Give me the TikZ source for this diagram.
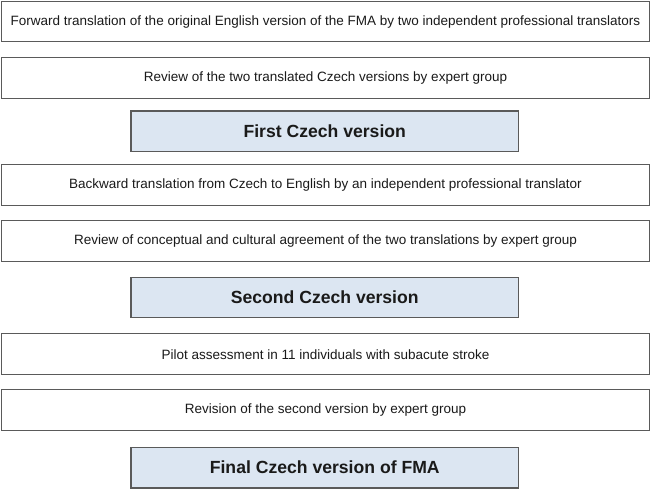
\documentclass[tikz,border=0pt]{standalone}
\usepackage{fontspec}
\setmainfont{Liberation Sans}
\definecolor{boxline}{HTML}{5A5A5A}
\definecolor{verfill}{HTML}{DCE6F2}
\definecolor{txt}{HTML}{1A1A1A}
\begin{document}
\begin{tikzpicture}[x=1pt,y=1pt,
  stepbox/.style={draw=boxline, line width=1pt, fill=white, minimum width=648pt, minimum height=40.5pt, inner sep=0pt, text=txt, font=\fontsize{13.5}{16}\selectfont},
  verbox/.style={draw=boxline, line width=1.3pt, fill=verfill, minimum width=387.5pt, minimum height=40.5pt, inner sep=0pt, text=txt, font=\fontsize{17.6}{21}\selectfont\bfseries}]
\useasboundingbox (0,0) rectangle (652,490);
\node[stepbox] (s1) at (325.5,468.4) {Forward translation of the original English version of the FMA by two independent professional translators};
\node[stepbox] (s2) at (325.5,412.2) {Review of the two translated Czech versions by expert group};
\node[verbox] (v1) at (324.75,358.8) {First Czech version};
\node[stepbox] (s3) at (325.5,305.0) {Backward translation from Czech to English by an independent professional translator};
\node[stepbox] (s4) at (325.5,249.2) {Review of conceptual and cultural agreement of the two translations by expert group};
\node[verbox] (v2) at (324.75,192.5) {Second Czech version};
\node[stepbox] (s5) at (325.5,135.8) {Pilot assessment in 11 individuals with subacute stroke};
\node[stepbox] (s6) at (325.5,80.2) {Revision of the second version by expert group};
\node[verbox] (v3) at (324.75,22.3) {Final Czech version of FMA};
\end{tikzpicture}
\end{document}
